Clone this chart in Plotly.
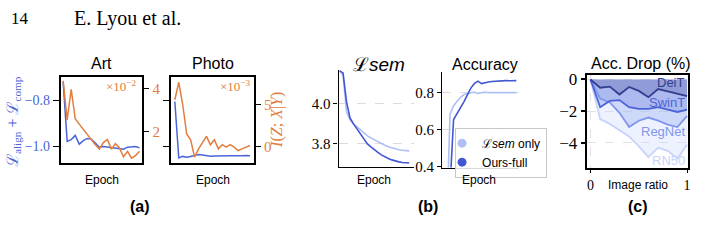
import plotly.graph_objects as go

W, H = 703, 245

# ---------------- data ----------------
epochs_a = list(range(20))
art_align = [-0.72, -0.978, -0.97, -0.952, -0.99, -0.975, -0.965, -0.968, -0.985, -1.003,
             -1.0, -1.003, -1.005, -1.006, -1.01, -1.012, -1.003, -1.0, -1.0, -1.006]
art_mi = [4.35, 2.55, 3.95, 2.6, 2.35, 2.1, 1.85, 1.6, 1.4, 1.2,
          1.5, 1.65, 1.2, 1.45, 1.25, 0.85, 1.1, 0.78, 0.9, 1.1]
photo_align = [-0.805, -1.05, -1.043, -1.047, -1.043, -1.04, -1.035, -1.037, -1.04, -1.042,
               -1.041, -1.04, -1.04, -1.04, -1.04, -1.04, -1.041, -1.04, -1.039, -1.04]
photo_mi = [5.6, 7.7, 5.0, 1.5, 0.8, -1.3, -0.3, 0.5, 1.2, 0.2,
            0.8, -0.3, 0.2, -0.1, 0.2, -0.1, -0.5, -0.3, -0.1, 0.1]

epochs_b = list(range(21))
lsem_only_loss = [4.165, 4.145, 3.96, 3.92, 3.90, 3.885, 3.87, 3.855, 3.84, 3.83, 3.82,
                  3.81, 3.80, 3.793, 3.786, 3.78, 3.775, 3.771, 3.768, 3.766, 3.765]
full_loss = [4.165, 4.155, 4.01, 3.93, 3.90, 3.875, 3.85, 3.825, 3.80, 3.785, 3.77,
             3.757, 3.745, 3.735, 3.727, 3.72, 3.714, 3.71, 3.707, 3.705, 3.704]
lsem_only_acc = [0.10, 0.684, 0.73, 0.755, 0.775, 0.79, 0.797, 0.80, 0.802, 0.796, 0.80,
                 0.803, 0.80, 0.80, 0.801, 0.80, 0.80, 0.801, 0.80, 0.80, 0.80]
full_acc = [0.05, 0.30, 0.655, 0.685, 0.72, 0.752, 0.79, 0.826, 0.85, 0.862, 0.849,
            0.855, 0.858, 0.86, 0.862, 0.862, 0.864, 0.865, 0.864, 0.866, 0.865]

ratios = [0.0, 0.1, 0.2, 0.3, 0.4, 0.5, 0.6, 0.7, 0.8, 0.9, 1.0]
models = ["DeiT", "SwinT", "RegNet", "RN50"]
deit = [0, -0.52, -0.45, -0.95, -0.47, -0.72, -1.12, -0.6, -0.75, -0.9, -1.05]
swint = [0, -1.75, -1.35, -1.3, -1.75, -1.85, -1.85, -1.75, -1.9, -2.05, -1.9]
regnet = [0, -1.2, -1.45, -2.1, -3.0, -2.6, -2.4, -2.6, -2.85, -3.0, -2.3]
rn50 = [0, -2.5, -2.8, -3.2, -3.6, -4.2, -4.9, -4.3, -4.5, -5.0, -4.1]
drop_series = [deit, swint, regnet, rn50]

# ---------------- style ----------------
BLUE = "#4a66d6"
ORANGE = "#e27d3e"
LIGHT = "#aebff5"
DARK = "#4257d3"
MODEL_COLORS = ["#323f8f", "#4c63d6", "#7f96ee", "#c7d3fb"]
MODEL_FILLS = ["rgba(50,63,143,0.24)", "rgba(76,99,214,0.26)",
               "rgba(127,150,238,0.28)", "rgba(199,211,251,0.3)"]
SERIF = "Liberation Serif"
SANS = "Liberation Sans"


def px(x):
    return x / W


def py(y):
    return (H - y) / H


fig = go.Figure()

# (a) Art
fig.add_trace(go.Scatter(x=epochs_a, y=art_align, mode="lines", line=dict(color=BLUE, width=1.5),
                         xaxis="x", yaxis="y", showlegend=False))
fig.add_trace(go.Scatter(x=epochs_a, y=art_mi, mode="lines", line=dict(color=ORANGE, width=1.5),
                         xaxis="x", yaxis="y2", showlegend=False))
# (a) Photo
fig.add_trace(go.Scatter(x=epochs_a, y=photo_align, mode="lines", line=dict(color=BLUE, width=1.5),
                         xaxis="x3", yaxis="y3", showlegend=False))
fig.add_trace(go.Scatter(x=epochs_a, y=photo_mi, mode="lines", line=dict(color=ORANGE, width=1.5),
                         xaxis="x3", yaxis="y4", showlegend=False))
# (b) Lsem
fig.add_trace(go.Scatter(x=epochs_b, y=lsem_only_loss, mode="lines", line=dict(color=LIGHT, width=1.6),
                         xaxis="x5", yaxis="y5", showlegend=False))
fig.add_trace(go.Scatter(x=epochs_b, y=full_loss, mode="lines", line=dict(color=DARK, width=1.6),
                         xaxis="x5", yaxis="y5", showlegend=False))
# (b) Accuracy
fig.add_trace(go.Scatter(x=epochs_b, y=lsem_only_acc, mode="lines", line=dict(color=LIGHT, width=1.6),
                         xaxis="x6", yaxis="y6", showlegend=False))
fig.add_trace(go.Scatter(x=epochs_b, y=full_acc, mode="lines", line=dict(color=DARK, width=1.6),
                         xaxis="x6", yaxis="y6", showlegend=False))
fig.add_trace(go.Scatter(x=[None], y=[None], mode="markers", name="ℒ<i>sem</i> only",
                         marker=dict(color=LIGHT, size=9), xaxis="x6", yaxis="y6"))
fig.add_trace(go.Scatter(x=[None], y=[None], mode="markers", name="Ours-full",
                         marker=dict(color=DARK, size=9), xaxis="x6", yaxis="y6"))

# (c) fills then lines
for ser, fc in zip(reversed(drop_series), reversed(MODEL_FILLS)):
    fig.add_trace(go.Scatter(x=ratios, y=ser, mode="lines", fill="tozeroy", fillcolor=fc,
                             line=dict(width=0), xaxis="x7", yaxis="y7", showlegend=False,
                             hoverinfo="skip"))
for ser, lc in zip(reversed(drop_series), reversed(MODEL_COLORS)):
    fig.add_trace(go.Scatter(x=ratios, y=ser, mode="lines", line=dict(color=lc, width=1.8),
                             xaxis="x7", yaxis="y7", showlegend=False))

frame = dict(showline=True, mirror=True, linecolor="black", linewidth=1.6,
             showgrid=False, zeroline=False)
noticks_x = dict(ticks="", showticklabels=False)
ytick = dict(ticks="outside", ticklen=6, tickwidth=1.2, tickcolor="black")

ya_dom = [py(166), py(76)]
layout = dict(
    width=W, height=H, margin=dict(l=0, r=0, t=0, b=0),
    paper_bgcolor="white", plot_bgcolor="rgba(0,0,0,0)",
    font=dict(family=SANS, size=12, color="black"),
    xaxis=dict(domain=[px(61), px(143)], range=[-0.6, 19.7], anchor="y", **frame, **noticks_x),
    yaxis=dict(domain=ya_dom, range=[-1.071, -0.70], anchor="x", **frame, **ytick,
               tickvals=[-1.0, -0.8], ticktext=["−1.0", "−0.8"],
               tickfont=dict(family=SERIF, size=14, color=BLUE)),
    yaxis2=dict(overlaying="y", side="right", anchor="x", range=[0.566, 4.51],
                showgrid=False, zeroline=False, showline=False, **ytick,
                tickvals=[2, 4], ticktext=["2", "4"],
                tickfont=dict(family=SERIF, size=15, color=ORANGE)),
    xaxis3=dict(domain=[px(172), px(255)], range=[-0.9, 20.0], anchor="y3", **frame, **noticks_x),
    yaxis3=dict(domain=ya_dom, range=[-1.071, -0.70], anchor="x3", **frame, **ytick,
                tickvals=[-1.0, -0.8], showticklabels=False),
    yaxis4=dict(overlaying="y3", side="right", anchor="x3", range=[-1.98, 8.3],
                showgrid=False, zeroline=False, showline=False, **ytick,
                tickvals=[0, 5], ticktext=["0", "5"],
                tickfont=dict(family=SERIF, size=15, color=ORANGE)),
    xaxis5=dict(domain=[px(340), px(416)], range=[-0.29, 21.43], anchor="y5",
                showline=True, linecolor="black", linewidth=1.3, showgrid=False, zeroline=False,
                **noticks_x),
    yaxis5=dict(domain=[py(170), py(68)], range=[3.686, 4.171], anchor="x5",
                showline=True, linecolor="black", linewidth=1.3, zeroline=False,
                ticks="outside", ticklen=4, tickwidth=1.2, tickcolor="black",
                tickvals=[3.8, 4.0], ticktext=["3.8", "4.0"],
                tickfont=dict(family=SERIF, size=15),
                showgrid=True, gridcolor="#dcdcdc", griddash="dash", gridwidth=1),
    xaxis6=dict(domain=[px(444), px(521)], range=[-1.29, 20.71], anchor="y6",
                showline=True, linecolor="black", linewidth=1.3, showgrid=False, zeroline=False,
                **noticks_x),
    yaxis6=dict(domain=[py(171), py(70)], range=[0.395, 0.914], anchor="x6",
                showline=True, linecolor="black", linewidth=1.3, zeroline=False,
                ticks="outside", ticklen=4, tickwidth=1.2, tickcolor="black",
                tickvals=[0.4, 0.6, 0.8], ticktext=["0.4", "0.6", "0.8"],
                tickfont=dict(family=SERIF, size=15),
                showgrid=True, gridcolor="#dcdcdc", griddash="dash", gridwidth=1),
    xaxis7=dict(domain=[px(590), px(691)], range=[-0.031, 1.01], anchor="y7",
                showline=True, mirror=True, linecolor="black", linewidth=1.6, zeroline=False,
                ticks="outside", ticklen=4, tickwidth=1.2, tickcolor="black",
                tickvals=[0, 1], ticktext=["0", "1"], tickfont=dict(family=SERIF, size=14),
                showgrid=True, gridcolor="#e2e2e2", griddash="dash", gridwidth=1),
    yaxis7=dict(domain=[py(171), py(74)], range=[-5.56, 0.26], anchor="x7",
                showline=True, mirror=True, linecolor="black", linewidth=1.6, zeroline=False,
                ticks="outside", ticklen=5, tickwidth=1.6, tickcolor="black",
                tickvals=[0, -2, -4], ticktext=["0", "−2", "−4"],
                tickfont=dict(family=SERIF, size=17),
                showgrid=True, gridcolor="#e2e2e2", griddash="dash", gridwidth=1),
    legend=dict(x=px(457), y=py(129), xanchor="left", yanchor="top",
                bgcolor="rgba(255,255,255,0.85)", bordercolor="#c8c8c8", borderwidth=1,
                font=dict(family=SANS, size=12), itemwidth=30, tracegroupgap=0,
                itemclick=False, indentation=-14),
)
fig.update_layout(**layout)

ann = []


def text(x, y, s, size=12, family=SANS, color="black", xanchor="center", angle=0, bold=False):
    if bold:
        s = "<b>" + s + "</b>"
    ann.append(dict(x=px(x), y=py(y), xref="paper", yref="paper", text=s, showarrow=False,
                    xanchor=xanchor, yanchor="middle", textangle=angle,
                    font=dict(family=family, size=size, color=color)))


# header
text(9, 14, "14", size=17, family=SERIF, xanchor="left")
text(72, 14, "E. Lyou et al.", size=20, family=SERIF, xanchor="left")
# titles
text(102, 62, "Art", size=16)
text(213.5, 62, "Photo", size=16)
text(381, 63, "ℒ<i>sem</i>", size=19)
text(487, 63, "Accuracy", size=16)
text(644, 62, "Acc. Drop (%)", size=16)
# x labels
for xx in (102, 213.5, 376, 481):
    text(xx, 184, "Epoch", size=12)
text(641, 189, "Image ratio", size=12)
# panel labels
text(141, 212, "(a)", size=16, bold=True)
text(430, 212, "(b)", size=16, bold=True)
text(641, 212, "(c)", size=16, bold=True)
# scale factors
text(122, 85, "×10<sup>−2</sup>", size=13, family=SERIF, color=ORANGE)
text(236, 85, "×10<sup>−3</sup>", size=13, family=SERIF, color=ORANGE)
# y labels
text(13, 122, "ℒ<sub>align</sub> + ℒ<sub>comp</sub>", size=16, family=SERIF, color=BLUE, angle=-90)
text(278, 121, "<i>I</i>(<i>Z</i>; <i>X</i>|<i>Y</i>)", size=16, family=SERIF, color=ORANGE, angle=-90)
fig.update_layout(annotations=ann)

# model labels inside (c)
label_y = [-0.22, -1.42, -3.28, -5.08]
for name, c, yv in zip(models, MODEL_COLORS, label_y):
    fig.add_annotation(x=1.0, y=yv, xref="x7", yref="y7", text=name, showarrow=False,
                       xanchor="right", yanchor="middle",
                       font=dict(family=SANS, size=13, color=c))

fig.write_html("out.html")
